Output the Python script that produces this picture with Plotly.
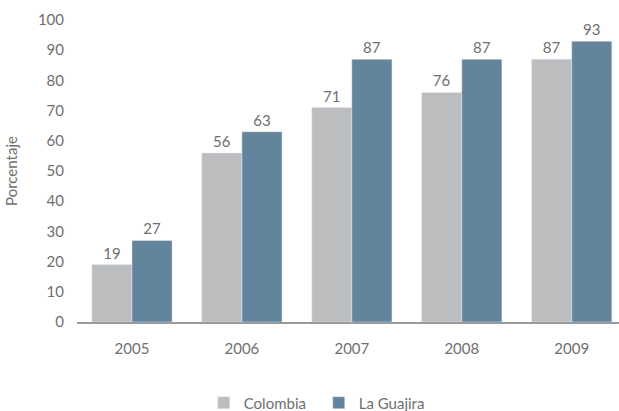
import plotly.graph_objects as go

years = ["2005", "2006", "2007", "2008", "2009"]
colombia = [19, 56, 71, 76, 87]
la_guajira = [27, 63, 87, 87, 93]
y_ticks = [0, 10, 20, 30, 40, 50, 60, 70, 80, 90, 100]

font_family = "Lato, 'Open Sans', sans-serif"
text_gray = "#6f6f6f"

fig = go.Figure()
fig.add_trace(go.Bar(
    name="Colombia", x=years, y=colombia, marker_color="#bcbdbf",
    text=colombia, textposition="outside", cliponaxis=False,
    textfont=dict(size=15, color=text_gray, family=font_family),
))
fig.add_trace(go.Bar(
    name="La Guajira", x=years, y=la_guajira, marker_color="#63849d",
    text=la_guajira, textposition="outside", cliponaxis=False,
    textfont=dict(size=15, color=text_gray, family=font_family),
))

fig.update_layout(
    width=619, height=411,
    margin=dict(l=77, r=0, t=20, b=89, autoexpand=False),
    barmode="group", bargap=0.27, bargroupgap=0,
    plot_bgcolor="white", paper_bgcolor="white",
    font=dict(family=font_family, size=15, color=text_gray),
    showlegend=True,
    legend=dict(orientation="h", x=0.446, xanchor="center", y=-0.268, yanchor="middle",
                font=dict(size=15, color=text_gray), traceorder="normal",
                itemwidth=30, entrywidthmode="pixels", entrywidth=70),
)
fig.update_xaxes(
    type="category", range=[-0.5, 4.43], showline=True, linecolor="#9a9a9a",
    linewidth=2, ticks="", showgrid=False, tickfont=dict(size=15, color=text_gray),
    ticklabelstandoff=12,
)
fig.update_yaxes(
    range=[0, 100], tickvals=y_ticks, showgrid=False, zeroline=False,
    showline=False, ticks="", tickfont=dict(size=15, color=text_gray),
    ticklabelstandoff=12,
    title=dict(text="Porcentaje", font=dict(size=15, color=text_gray), standoff=16),
)

fig.write_html("out.html")
